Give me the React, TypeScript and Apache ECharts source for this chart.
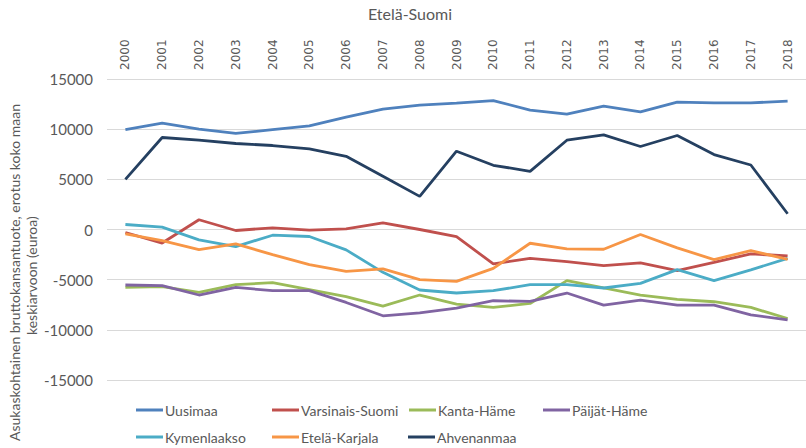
import React, { useEffect, useRef } from "react";
import * as echarts from "echarts";

const years = ["2000","2001","2002","2003","2004","2005","2006","2007","2008","2009","2010","2011","2012","2013","2014","2015","2016","2017","2018"];
const yTicks = [-15000, 15000, 5000];

const uusimaa = [9950, 10600, 10000, 9570, 9950, 10330, 11200, 12000, 12400, 12600, 12850, 11900, 11500, 12300, 11730, 12700, 12620, 12620, 12800];
const varsinaisSuomi = [-300, -1350, 970, -100, 170, -70, 70, 670, 0, -700, -3430, -2870, -3200, -3600, -3330, -4100, -3270, -2430, -2630];
const kantaHame = [-5770, -5700, -6270, -5500, -5300, -6000, -6700, -7630, -6530, -7430, -7770, -7370, -5100, -5830, -6530, -6970, -7200, -7770, -8870];
const paijatHame = [-5530, -5600, -6530, -5770, -6100, -6100, -7270, -8600, -8300, -7830, -7100, -7170, -6330, -7530, -7030, -7530, -7530, -8500, -9000];
const kymenlaakso = [500, 230, -1030, -1700, -570, -700, -2030, -4270, -6030, -6330, -6100, -5500, -5500, -5830, -5370, -4000, -5100, -4030, -2870];
const etelaKarjala = [-430, -1100, -2000, -1430, -2500, -3500, -4170, -3930, -5000, -5170, -3870, -1370, -1930, -1970, -500, -1830, -3000, -2100, -2970];
const ahvenanmaa = [5000, 9170, 8900, 8570, 8370, 8030, 7300, 5300, 3300, 7800, 6400, 5800, 8900, 9430, 8270, 9370, 7470, 6430, 1570];

const seriesNames = ["Uusimaa", "Varsinais-Suomi", "Kanta-Häme", "Päijät-Häme", "Kymenlaakso", "Etelä-Karjala", "Ahvenanmaa"];
const seriesData = [uusimaa, varsinaisSuomi, kantaHame, paijatHame, kymenlaakso, etelaKarjala, ahvenanmaa];
const colors = ["#4F81BD", "#C0504D", "#9BBB59", "#8064A2", "#4BACC6", "#F79646", "#254061"];
const legendPos = [[136, 403], [272, 403], [409, 403], [543, 403], [136, 430], [272, 430], [408, 430]];
const yNameLines = ["Asukaskohtainen bruttokansantuote, erotus koko maan", "keskiarvoon (euroa)"];

const FONT = "Lato, 'Open Sans', sans-serif";
const TXT = "#595959";

export default function App() {
  const ref = useRef<HTMLDivElement>(null);
  useEffect(() => {
    if (!ref.current) return;
    const chart = echarts.init(ref.current, undefined, { renderer: "svg" });
    chart.setOption({
      animation: false,
      backgroundColor: "#ffffff",
      title: {
        text: "Etelä-Suomi",
        left: 405,
        top: 0,
        textAlign: "center",
        textStyle: { fontFamily: FONT, fontSize: 16, fontWeight: "normal", color: TXT },
      },
      legend: seriesNames.map((n, i) => ({
        data: [n],
        left: legendPos[i][0],
        top: legendPos[i][1],
        icon: "rect",
        itemWidth: 27,
        itemHeight: 3,
        padding: 0,
        textStyle: { fontFamily: FONT, fontSize: 14, color: TXT, padding: [0, 0, 0, -3] },
      })),
      grid: { left: 107, top: 79, width: 703, height: 301 },
      xAxis: {
        type: "category",
        data: years,
        position: "top",
        boundaryGap: true,
        axisLine: { show: false },
        axisTick: { show: false },
        axisLabel: { rotate: 90, margin: 9, fontFamily: "'DejaVu Sans', sans-serif", fontSize: 12, color: TXT },
        splitLine: { show: false },
      },
      yAxis: {
        type: "value",
        min: yTicks[0],
        max: yTicks[1],
        interval: yTicks[2],
        axisLine: { show: false },
        axisTick: { show: false },
        axisLabel: { margin: 14, fontFamily: FONT, fontSize: 15, color: TXT, formatter: (v: number) => String(v) },
        splitLine: { lineStyle: { color: "#D9D9D9", width: 1 } },
      },
      graphic: [
        {
          type: "text",
          x: 14,
          y: 441,
          rotation: Math.PI / 2,
          style: { text: yNameLines[0], fontFamily: FONT, fontSize: 14, fill: TXT, align: "left", verticalAlign: "middle" },
        },
        {
          type: "text",
          x: 31,
          y: 335,
          rotation: Math.PI / 2,
          style: { text: yNameLines[1], fontFamily: FONT, fontSize: 14, fill: TXT, align: "left", verticalAlign: "middle" },
        },
      ],
      series: seriesNames.map((n, i) => ({
        name: n,
        type: "line",
        data: seriesData[i],
        symbol: "none",
        color: colors[i],
        lineStyle: { width: 2.8, color: colors[i] },
      })),
    });
    return () => chart.dispose();
  }, []);
  return (
    <div
      ref={ref}
      style={{ position: "fixed", left: 0, top: 0, width: 806, height: 448, overflow: "hidden" }}
    />
  );
}
